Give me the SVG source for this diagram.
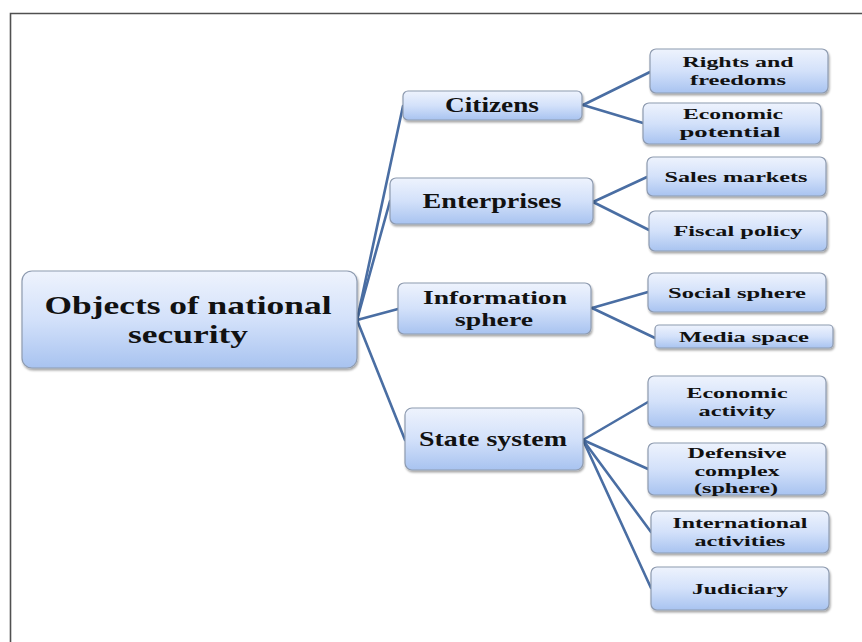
<svg xmlns="http://www.w3.org/2000/svg" width="862" height="642" viewBox="0 0 862 642">
  <defs>
    <linearGradient id="boxFill" x1="0" y1="0" x2="0" y2="1">
      <stop offset="0" stop-color="#eef3fd"/>
      <stop offset="0.5" stop-color="#d3e1fa"/>
      <stop offset="1" stop-color="#a8c3f0"/>
    </linearGradient>
    <filter id="shadow" x="-10%" y="-20%" width="120%" height="150%">
      <feDropShadow dx="1" dy="2" stdDeviation="1.2" flood-color="#000" flood-opacity="0.35"/>
    </filter>
  </defs>
  <style>
    .box { fill: url(#boxFill); stroke: #8e9bb0; stroke-width: 1.2; filter: url(#shadow); }
    .t { font-family: "Liberation Serif", "Times New Roman", serif; font-weight: bold; fill: #111; text-anchor: middle; }
    .t0 { font-size: 26px; }
    .t1 { font-size: 21px; }
    .t1b { font-size: 19px; }
    .t2 { font-size: 15.5px; }
    .link { stroke: #4a6ea3; stroke-width: 2.6; fill: none; stroke-linecap: round; }
  </style>

  <rect width="862" height="642" fill="#fff"/>
  <!-- page frame (top and left edges) -->
  <path d="M10.5 642 V13.5 H862" fill="none" stroke="#505050" stroke-width="1.6"/>

  <g id="connectors">
    <path class="link" d="M357 320 L403 106"/>
    <path class="link" d="M357 320 L390 201"/>
    <path class="link" d="M357 320 L398 309"/>
    <path class="link" d="M357 320 L405 440"/>
    <path class="link" d="M583 105 L650 72"/>
    <path class="link" d="M583 105 L643 123"/>
    <path class="link" d="M593 202 L647 177"/>
    <path class="link" d="M593 202 L649 230"/>
    <path class="link" d="M592 308 L648 292"/>
    <path class="link" d="M592 308 L655 338"/>
    <path class="link" d="M583 440 L648 402"/>
    <path class="link" d="M583 440 L648 469"/>
    <path class="link" d="M583 440 L651 532"/>
    <path class="link" d="M583 440 L651 588"/>
  </g>

  <g id="root">
    <rect class="box" x="22" y="271" width="335" height="97" rx="10"/>
    <text class="t t0" x="188" y="314" textLength="287" lengthAdjust="spacingAndGlyphs">Objects of national</text>
    <text class="t t0" x="188" y="343" textLength="120" lengthAdjust="spacingAndGlyphs">security</text>
  </g>

  <g id="citizens">
    <rect class="box" x="403" y="91" width="179" height="29" rx="5"/>
    <text class="t t1" x="492" y="112" textLength="94" lengthAdjust="spacingAndGlyphs">Citizens</text>
  </g>
  <g id="enterprises">
    <rect class="box" x="390" y="178" width="203" height="46" rx="6"/>
    <text class="t t1" x="492" y="208" textLength="139" lengthAdjust="spacingAndGlyphs">Enterprises</text>
  </g>
  <g id="information-sphere">
    <rect class="box" x="398" y="283" width="193" height="51" rx="6"/>
    <text class="t t1b" x="495" y="304" textLength="144" lengthAdjust="spacingAndGlyphs">Information</text>
    <text class="t t1b" x="494" y="326" textLength="78" lengthAdjust="spacingAndGlyphs">sphere</text>
  </g>
  <g id="state-system">
    <rect class="box" x="405" y="408" width="178" height="62" rx="7"/>
    <text class="t t1" x="493" y="446" textLength="148" lengthAdjust="spacingAndGlyphs">State system</text>
  </g>

  <g id="rights-freedoms">
    <rect class="box" x="650" y="49" width="178" height="44" rx="6"/>
    <text class="t t2" x="738" y="67" textLength="111" lengthAdjust="spacingAndGlyphs">Rights and</text>
    <text class="t t2" x="738" y="84.5" textLength="96" lengthAdjust="spacingAndGlyphs">freedoms</text>
  </g>
  <g id="economic-potential">
    <rect class="box" x="643" y="103" width="178" height="41" rx="6"/>
    <text class="t t2" x="733" y="119" textLength="100" lengthAdjust="spacingAndGlyphs">Economic</text>
    <text class="t t2" x="730" y="136.5" textLength="101" lengthAdjust="spacingAndGlyphs">potential</text>
  </g>
  <g id="sales-markets">
    <rect class="box" x="647" y="157" width="179" height="39" rx="6"/>
    <text class="t t2" x="736" y="182" textLength="143" lengthAdjust="spacingAndGlyphs">Sales markets</text>
  </g>
  <g id="fiscal-policy">
    <rect class="box" x="649" y="211" width="178" height="40" rx="6"/>
    <text class="t t2" x="738" y="236" textLength="129" lengthAdjust="spacingAndGlyphs">Fiscal policy</text>
  </g>
  <g id="social-sphere">
    <rect class="box" x="648" y="273" width="178" height="39" rx="6"/>
    <text class="t t2" x="737" y="298" textLength="138" lengthAdjust="spacingAndGlyphs">Social sphere</text>
  </g>
  <g id="media-space">
    <rect class="box" x="655" y="325" width="178" height="23" rx="4"/>
    <text class="t t2" x="744" y="342" textLength="130" lengthAdjust="spacingAndGlyphs">Media space</text>
  </g>
  <g id="economic-activity">
    <rect class="box" x="648" y="376" width="178" height="51" rx="6"/>
    <text class="t t2" x="737" y="398" textLength="101" lengthAdjust="spacingAndGlyphs">Economic</text>
    <text class="t t2" x="737" y="415.5" textLength="77" lengthAdjust="spacingAndGlyphs">activity</text>
  </g>
  <g id="defensive-complex">
    <rect class="box" x="648" y="443" width="178" height="52" rx="6"/>
    <text class="t t2" x="737" y="458" textLength="99" lengthAdjust="spacingAndGlyphs">Defensive</text>
    <text class="t t2" x="737" y="475.5" textLength="85" lengthAdjust="spacingAndGlyphs">complex</text>
    <text class="t t2" x="736" y="493" textLength="84" lengthAdjust="spacingAndGlyphs">(sphere)</text>
  </g>
  <g id="international-activities">
    <rect class="box" x="651" y="511" width="178" height="42" rx="6"/>
    <text class="t t2" x="740" y="528" textLength="135" lengthAdjust="spacingAndGlyphs">International</text>
    <text class="t t2" x="740" y="545.5" textLength="91" lengthAdjust="spacingAndGlyphs">activities</text>
  </g>
  <g id="judiciary">
    <rect class="box" x="651" y="567" width="178" height="43" rx="6"/>
    <text class="t t2" x="740" y="594" textLength="96" lengthAdjust="spacingAndGlyphs">Judiciary</text>
  </g>
</svg>
